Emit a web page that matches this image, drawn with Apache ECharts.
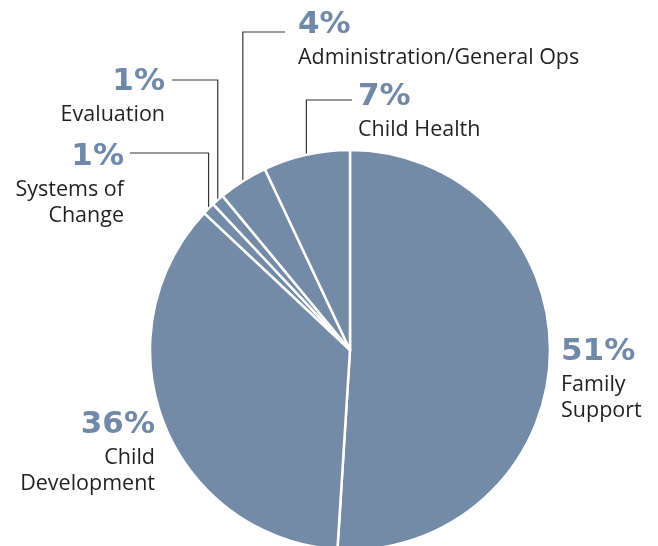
<!DOCTYPE html>
<html>
<head>
<meta charset="utf-8">
<script src="https://cdn.jsdelivr.net/npm/echarts@6/dist/echarts.min.js"></script>
<style>
    html, body { margin: 0; padding: 0; background: #fff; }
    #container { width: 658px; height: 546px; }
</style>
</head>
<body>
<div id="container"></div>
<script>
var categories = ['Family\nSupport', 'Child\nDevelopment', 'Systems of\nChange', 'Evaluation', 'Administration/General Ops', 'Child Health'];
var shares = [51, 36, 1, 1, 4, 7];

// where each label block sits (top edge), and where its leader line runs
var labelPos = [
    { x: 561, y: 332, align: 'left', line: false },
    { x: 155, y: 405, align: 'right', line: false },
    { x: 124, y: 137, align: 'right', line: true, lineY: 153, endX: 130 },
    { x: 165, y: 62, align: 'right', line: true, lineY: 80, endX: 172 },
    { x: 298, y: 5, align: 'left', line: true, lineY: 32, endX: 285 },
    { x: 358, y: 77, align: 'left', line: true, lineY: 100, endX: 352 }
];

document.addEventListener('DOMContentLoaded', function () {
    var chartDom = document.getElementById('container');
    var myChart = echarts.init(chartDom);

    var data = categories.map(function (name, i) {
        return {
            name: name,
            value: shares[i],
            label: { align: labelPos[i].align },
            labelLine: { show: labelPos[i].line }
        };
    });

    var option = {
        animation: false,
        series: [
            {
                type: 'pie',
                center: [350, 350],
                radius: 200,
                startAngle: 90,
                clockwise: true,
                avoidLabelOverlap: false,
                data: data,
                itemStyle: {
                    color: '#738ba6',
                    borderColor: '#ffffff',
                    borderWidth: 2.5
                },
                emphasis: { disabled: true },
                label: {
                    show: true,
                    position: 'outside',
                    formatter: function (p) {
                        return '{p|' + p.value + '%}\n{n|' + p.name + '}';
                    },
                    rich: {
                        p: {
                            fontFamily: 'DejaVu Sans',
                            fontWeight: 'bold',
                            fontSize: 31,
                            lineHeight: 40,
                            color: '#7189a8'
                        },
                        n: {
                            fontFamily: 'Open Sans',
                            fontSize: 21.5,
                            lineHeight: 26,
                            color: '#231f20'
                        }
                    }
                },
                labelLine: {
                    show: true,
                    length: 10,
                    length2: 10,
                    lineStyle: { color: '#333333', width: 1.2 }
                },
                labelLayout: function (params) {
                    var pos = labelPos[params.dataIndex];
                    var res = { x: pos.x, y: pos.y, align: pos.align, verticalAlign: 'top' };
                    if (pos.line && params.labelLinePoints) {
                        var start = params.labelLinePoints[0];
                        res.labelLinePoints = [
                            [start[0], start[1]],
                            [start[0], pos.lineY],
                            [pos.endX, pos.lineY]
                        ];
                    }
                    return res;
                }
            }
        ]
    };

    option && myChart.setOption(option);
});
</script>
</body>
</html>
